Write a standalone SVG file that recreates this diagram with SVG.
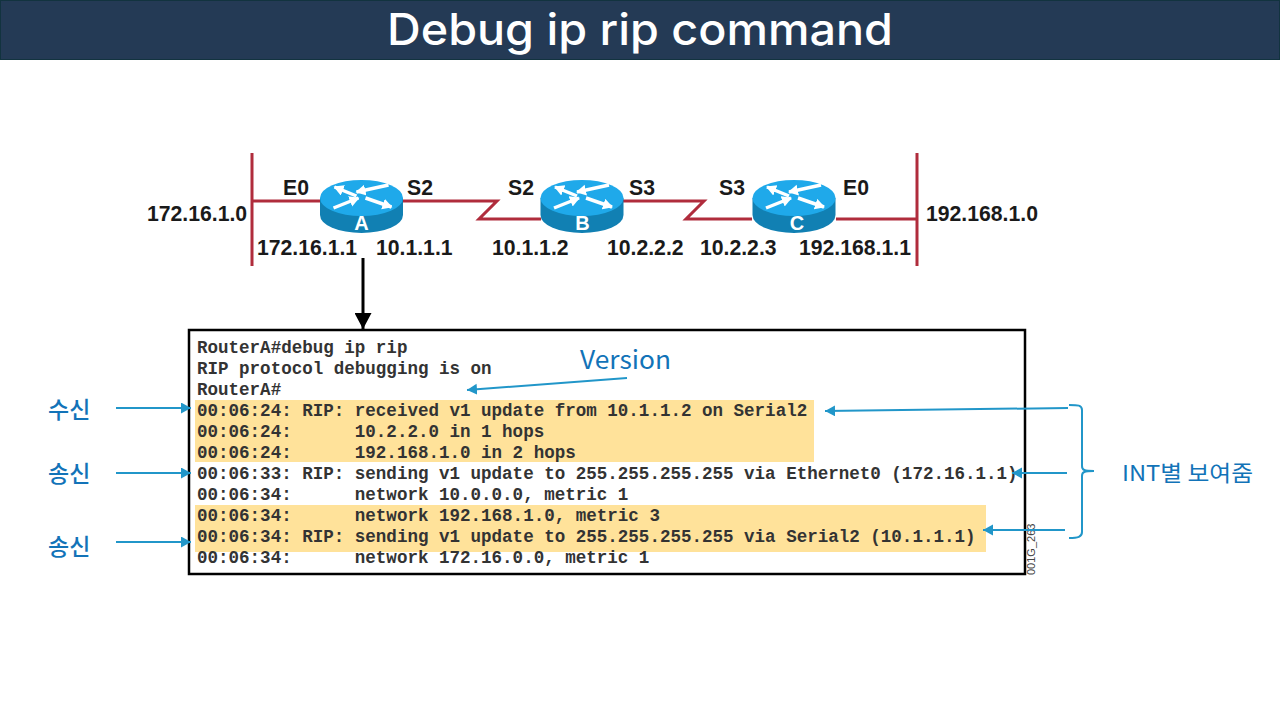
<svg xmlns="http://www.w3.org/2000/svg" width="1280" height="720" viewBox="0 0 1280 720">
<style>
.lbl{font:bold 21.200px "Liberation Sans",Arial,sans-serif;fill:#1a1a1a}
.rt{font:bold 20px "Liberation Sans",Arial,sans-serif;fill:#fff;text-anchor:middle}
.mono{font:bold 17.550px "Liberation Mono","Courier New",monospace;fill:#333;white-space:pre}
.note{font-family:"Noto Sans CJK KR","Noto Sans",sans-serif;fill:#1273b8}
.red{fill:none;stroke:#b02c3c;stroke-width:3}
.blue{fill:none;stroke:#2196c9;stroke-width:2}
.wa{fill:none;stroke:#fff;stroke-width:3.500;marker-end:url(#wh)}
</style>
<defs>
<marker id="bh" markerUnits="userSpaceOnUse" markerWidth="12" markerHeight="12" refX="10" refY="5.500" orient="auto"><path d="M0 0L10 5.500L0 11z" fill="#2196c9"/></marker>
<marker id="kh" markerUnits="userSpaceOnUse" markerWidth="18" markerHeight="17" refX="16" refY="8.500" orient="auto"><path d="M0 0L16 8.500L0 17z" fill="#000"/></marker>
<marker id="wh" markerUnits="userSpaceOnUse" markerWidth="12" markerHeight="12" refX="9" refY="5.500" orient="auto"><path d="M0 0L10 5.500L0 11z" fill="#fff"/></marker>
<g id="router">
<path d="M-41.500 0V17A41.500 18 0 0 0 41.500 17V0z" fill="#1180b3"/>
<ellipse cx="0" cy="0" rx="41.500" ry="18" fill="#1fa9ea"/>
<path class="wa" d="M-5-2L-27-11"/>
<path class="wa" d="M27-13L-5-6"/>
<path class="wa" d="M-28 10L-3 0"/>
<path class="wa" d="M4 0L30 9"/>
</g>
</defs>
<rect width="1280" height="720" fill="#fff"/>
<g id="title">
<rect x="0.500" y="0.500" width="1279" height="59" fill="#243a55" stroke="#12333f"/>
<text x="640" y="45" text-anchor="middle" font-family="Inter,'Open Sans',sans-serif" font-size="44" font-weight="500" fill="#fff" textLength="506" lengthAdjust="spacingAndGlyphs">Debug ip rip command</text>
</g>
<g id="connectors">
<path class="red" d="M252 153V266M917 153V266"/>
<path class="red" d="M252 201H320M403 201H497L479 219H541M623 201H704L686 219H752M836 219H917"/>
<path d="M363 258V329" fill="none" stroke="#000" stroke-width="3" marker-end="url(#kh)"/>
</g>
<g id="router-a"><use href="#router" x="361.500" y="198"/><text class="rt" x="361.500" y="230">A</text></g>
<g id="router-b"><use href="#router" x="582" y="198"/><text class="rt" x="582.500" y="230">B</text></g>
<g id="router-c"><use href="#router" x="794" y="198"/><text class="rt" x="797" y="230">C</text></g>
<g id="labels">
<text class="lbl" x="147" y="221">172.16.1.0</text>
<text class="lbl" x="283" y="195">E0</text>
<text class="lbl" x="407" y="195">S2</text>
<text class="lbl" x="508" y="195">S2</text>
<text class="lbl" x="629" y="195">S3</text>
<text class="lbl" x="719" y="195">S3</text>
<text class="lbl" x="843" y="195">E0</text>
<text class="lbl" x="926" y="221">192.168.1.0</text>
<text class="lbl" x="257" y="255">172.16.1.1</text>
<text class="lbl" x="376" y="255">10.1.1.1</text>
<text class="lbl" x="492" y="255">10.1.1.2</text>
<text class="lbl" x="607" y="255">10.2.2.2</text>
<text class="lbl" x="700" y="255">10.2.2.3</text>
<text class="lbl" x="799" y="255">192.168.1.1</text>
</g>
<g id="console">
<rect x="189" y="330" width="836" height="244" fill="#fff" stroke="#000" stroke-width="2.500"/>
<rect x="195" y="400" width="619" height="62" fill="#ffe29a"/>
<rect x="195" y="505" width="791" height="47" fill="#ffe29a"/>
<text class="mono" xml:space="preserve" x="197" y="353">RouterA#debug ip rip</text>
<text class="mono" xml:space="preserve" x="197" y="374">RIP protocol debugging is on</text>
<text class="mono" xml:space="preserve" x="197" y="395">RouterA#</text>
<text class="mono" xml:space="preserve" x="197" y="416">00:06:24: RIP: received v1 update from 10.1.1.2 on Serial2</text>
<text class="mono" xml:space="preserve" x="197" y="437">00:06:24:      10.2.2.0 in 1 hops</text>
<text class="mono" xml:space="preserve" x="197" y="458">00:06:24:      192.168.1.0 in 2 hops</text>
<text class="mono" xml:space="preserve" x="197" y="479">00:06:33: RIP: sending v1 update to 255.255.255.255 via Ethernet0 (172.16.1.1)</text>
<text class="mono" xml:space="preserve" x="197" y="500">00:06:34:      network 10.0.0.0, metric 1</text>
<text class="mono" xml:space="preserve" x="197" y="521">00:06:34:      network 192.168.1.0, metric 3</text>
<text class="mono" xml:space="preserve" x="197" y="542">00:06:34: RIP: sending v1 update to 255.255.255.255 via Serial2 (10.1.1.1)</text>
<text class="mono" xml:space="preserve" x="197" y="563">00:06:34:      network 172.16.0.0, metric 1</text>
<text transform="translate(1035 575) rotate(-90)" font-family="'Liberation Sans',Arial,sans-serif" font-size="11" fill="#444">001G_263</text>
</g>
<g id="annotations">
<path class="blue" marker-end="url(#bh)" d="M116 408H191"/>
<path class="blue" marker-end="url(#bh)" d="M116 473H191"/>
<path class="blue" marker-end="url(#bh)" d="M116 542H191"/>
<path class="blue" marker-end="url(#bh)" d="M627 378L467 390"/>
<path class="blue" marker-end="url(#bh)" d="M1068 408L825 411"/>
<path class="blue" marker-end="url(#bh)" d="M1067 473H1012"/>
<path class="blue" marker-end="url(#bh)" d="M1065 530H983"/>
<path class="blue" d="M1069 405C1078 405 1082 405 1082 410V466C1082 470 1084 471 1094 471C1084 471 1082 472 1082 476V532C1082 537 1078 538 1069 538"/>
<text class="note" x="580" y="369" font-size="25" font-family="Inter,sans-serif" textLength="91" lengthAdjust="spacingAndGlyphs">Version</text>
<text class="note" x="1122" y="481" font-size="22" textLength="131" lengthAdjust="spacingAndGlyphs">INT별 보여줌</text>
<text class="note" x="48" y="418" font-size="23" font-weight="500">수신</text>
<text class="note" x="48" y="482" font-size="23" font-weight="500">송신</text>
<text class="note" x="48" y="555" font-size="23" font-weight="500">송신</text>
</g>
</svg>
